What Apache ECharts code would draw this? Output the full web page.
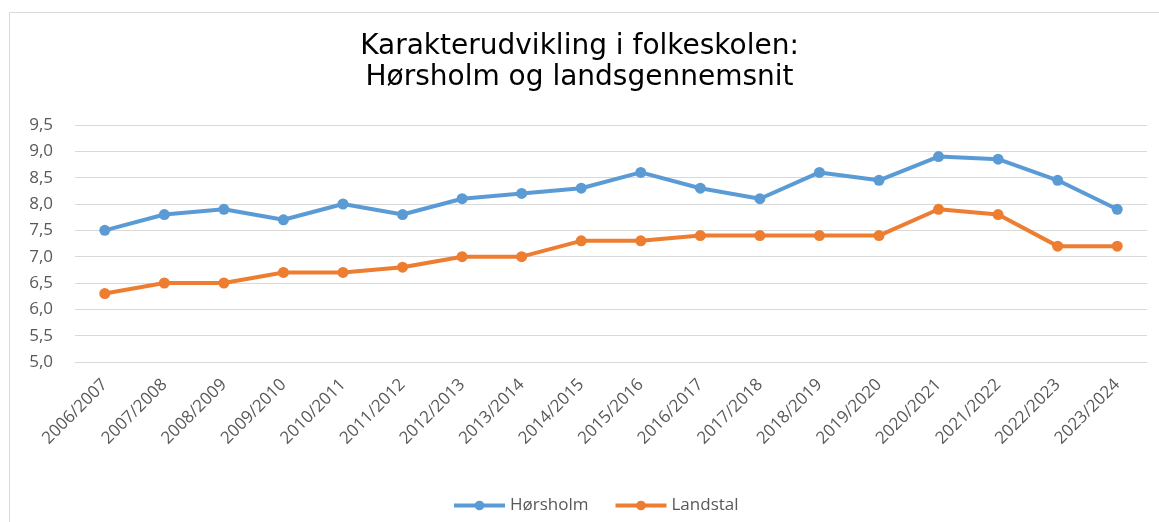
<!DOCTYPE html>
<html>
<head>
<meta charset="utf-8">
<title>Karakterudvikling i folkeskolen</title>
<script src="https://cdn.jsdelivr.net/npm/echarts@6/dist/echarts.min.js"></script>
<style>
  html, body { margin: 0; padding: 0; background: #fff; }
  #chart { width: 1159px; height: 522px; }
</style>
</head>
<body>
<div id="chart"></div>
<script>
// skoleår
const years = [
  '2006/2007', '2007/2008', '2008/2009', '2009/2010', '2010/2011', '2011/2012',
  '2012/2013', '2013/2014', '2014/2015', '2015/2016', '2016/2017', '2017/2018',
  '2018/2019', '2019/2020', '2020/2021', '2021/2022', '2022/2023', '2023/2024'
];
const horsholm = [7.5, 7.8, 7.9, 7.7, 8.0, 7.8, 8.1, 8.2, 8.3, 8.6, 8.3, 8.1, 8.6, 8.45, 8.9, 8.85, 8.45, 7.9];
const landstal = [6.3, 6.5, 6.5, 6.7, 6.7, 6.8, 7.0, 7.0, 7.3, 7.3, 7.4, 7.4, 7.4, 7.4, 7.9, 7.8, 7.2, 7.2];

const yMin = 5;
const yMax = 9.5;
const yStep = 0.5;

const labelColor = '#595959';
const gridColor = '#d9d9d9';
const labelFont = '"Open Sans", "Liberation Sans", sans-serif';
const blue = '#5B9BD5';
const orange = '#ED7D31';

const chart = echarts.init(document.getElementById('chart'));

const option = {
  animation: false,
  backgroundColor: '#fff',
  title: {
    text: 'Karakterudvikling i folkeskolen:\nHørsholm og landsgennemsnit',
    left: 'center',
    top: 26,
    padding: [5, 0, 5, 20],
    textStyle: {
      fontFamily: '"DejaVu Sans", Verdana, sans-serif',
      fontSize: 28,
      fontWeight: 'normal',
      lineHeight: 31,
      color: '#000'
    }
  },
  graphic: [{
    type: 'rect',
    shape: { x: 9.5, y: 12.5, width: 1200, height: 600 },
    style: { fill: 'none', stroke: gridColor, lineWidth: 1 },
    silent: true
  }],
  legend: {
    left: 447,
    top: 492,
    itemWidth: 51,
    itemHeight: 12,
    itemGap: 25,
    textStyle: { fontFamily: labelFont, fontSize: 17, color: labelColor },
    data: [
      { name: 'Hørsholm', lineStyle: { width: 4 } },
      { name: 'Landstal', lineStyle: { width: 4 } }
    ]
  },
  grid: {
    left: 75,
    right: 12,
    top: 125,
    bottom: 160,
    containLabel: false
  },
  xAxis: {
    type: 'category',
    data: years,
    boundaryGap: true,
    axisLine: { show: true, lineStyle: { color: gridColor, width: 1 } },
    axisTick: { show: false },
    axisLabel: {
      rotate: 45,
      margin: 20,
      interval: 0,
      fontFamily: labelFont,
      fontSize: 17,
      color: labelColor
    }
  },
  yAxis: {
    type: 'value',
    min: yMin,
    max: yMax,
    interval: yStep,
    axisLine: { show: false },
    axisTick: { show: false },
    splitLine: { lineStyle: { color: gridColor, width: 1 } },
    axisLabel: {
      margin: 22,
      fontFamily: labelFont,
      fontSize: 17,
      color: labelColor,
      formatter: (v) => v.toFixed(1).replace('.', ',')
    }
  },
  series: [
    {
      name: 'Hørsholm',
      type: 'line',
      data: horsholm,
      symbol: 'circle',
      symbolSize: 11,
      color: blue,
      lineStyle: { width: 4, color: blue },
      itemStyle: { color: blue }
    },
    {
      name: 'Landstal',
      type: 'line',
      data: landstal,
      symbol: 'circle',
      symbolSize: 11,
      color: orange,
      lineStyle: { width: 4, color: orange },
      itemStyle: { color: orange }
    }
  ]
};

chart.setOption(option);
window.addEventListener('resize', () => chart.resize());
</script>
</body>
</html>
